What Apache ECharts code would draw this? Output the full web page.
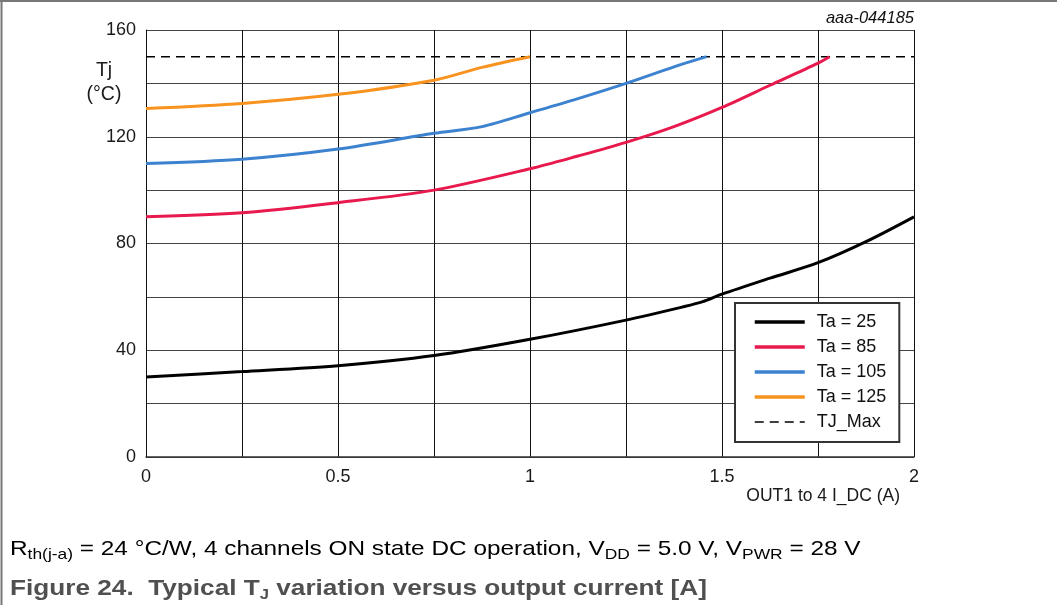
<!DOCTYPE html>
<html>
<head>
<meta charset="utf-8">
<script src="https://cdn.jsdelivr.net/npm/echarts@6/dist/echarts.min.js"></script>
<style>
html,body{margin:0;padding:0;background:#fff;}
#chart{width:1057px;height:605px;}
</style>
</head>
<body>
<div id="chart"></div>
<script>
// Data
const seriesNames = ['Ta = 25', 'Ta = 85', 'Ta = 105', 'Ta = 125', 'TJ_Max'];
const currentTa25 = [0, 0.25, 0.5, 0.75, 1.0, 1.25, 1.4, 1.45, 1.5, 1.625, 1.75, 1.875, 2.0];
const tempTa25    = [30, 32, 34.2, 38, 44.1, 51.3, 56.3, 58.2, 61, 67, 72.8, 80.7, 90];
const currentTa85 = [0, 0.25, 0.5, 0.75, 1.0, 1.125, 1.25, 1.375, 1.5, 1.625, 1.75, 1.78];
const tempTa85    = [90, 91.5, 95.3, 100, 108, 112.8, 117.9, 123.8, 131, 139.3, 147.6, 150];
const currentTa105 = [0, 0.25, 0.5, 0.75, 0.875, 1.0, 1.125, 1.25, 1.375, 1.46];
const tempTa105    = [110, 111.6, 115.4, 121.3, 123.8, 129, 134.3, 140, 146.2, 150];
const currentTa125 = [0, 0.25, 0.5, 0.75, 0.875, 1.0];
const tempTa125    = [130.6, 132.5, 135.9, 141.2, 146, 150];
const currentTjMax = [0, 2];
const tempTjMax    = [150, 150];
const xTicks = [0, 0.5, 1, 1.5, 2];
const yTicks = [0, 40, 80, 120, 160];

const colors = ['#000000', '#E8194C', '#3D82CF', '#F7931E', '#000000'];

function pairs(xs, ys) { return xs.map((x, i) => [x, ys[i]]); }
const dataSets = [
  pairs(currentTa25, tempTa25),
  pairs(currentTa85, tempTa85),
  pairs(currentTa105, tempTa105),
  pairs(currentTa125, tempTa125),
  pairs(currentTjMax, tempTjMax)
];

const chart = echarts.init(document.getElementById('chart'), null, {renderer: 'canvas'});
const FONT = 'Liberation Sans, Arial, sans-serif';

const series = seriesNames.map((name, i) => ({
  name: name,
  type: 'line',
  data: dataSets[i],
  symbol: 'none',
  smooth: i === 4 ? false : 0.3,
  z: i === 4 ? 1 : 3,
  lineStyle: i === 4
    ? {color: '#000', width: 1.5, type: [9, 6]}
    : {color: colors[i], width: 3},
  itemStyle: {color: 'rgba(0,0,0,0)', borderWidth: 0}
}));

const legendData = seriesNames.map((name, i) => ({
  name: name,
  lineStyle: i === 4 ? {width: 1.5} : {width: 3.5}
}));

chart.setOption({
  backgroundColor: '#ffffff',
  animation: false,
  grid: {left: 146, right: 143, top: 30, bottom: 148, containLabel: false},
  xAxis: {
    type: 'value', min: 0, max: 2, interval: 0.25,
    axisLine: {show: true, lineStyle: {color: '#333', width: 1.5}},
    axisTick: {show: false},
    splitLine: {show: true, lineStyle: {color: '#111', width: 1}},
    axisLabel: {
      color: '#1a1a1a', fontSize: 18, fontFamily: FONT, margin: 11,
      formatter: v => (xTicks.indexOf(v) >= 0 ? String(v) : ''),
      showMaxLabel: true, showMinLabel: true
    },
    name: 'OUT1 to 4 I_DC (A)',
    nameLocation: 'end',
    nameGap: 0,
    nameTextStyle: {color: '#1a1a1a', fontSize: 17.5, fontFamily: FONT, align: 'right', verticalAlign: 'top', padding: [30, 14, 0, 0]}
  },
  yAxis: {
    type: 'value', min: 0, max: 160, interval: 20,
    axisLine: {show: true, lineStyle: {color: '#111', width: 1}},
    axisTick: {show: false},
    splitLine: {show: true, lineStyle: {color: '#444', width: 1.2}},
    axisLabel: {
      color: '#1a1a1a', fontSize: 18, fontFamily: FONT, margin: 10,
      formatter: v => (yTicks.indexOf(v) >= 0 ? String(v) : '')
    }
  },
  legend: {
    data: legendData,
    orient: 'vertical',
    left: 735, top: 303,
    itemWidth: 50, itemHeight: 14, itemGap: 7,
    padding: [10, 13, 11, 18],
    backgroundColor: '#ffffff',
    borderColor: '#333', borderWidth: 2,
    itemStyle: {color: 'rgba(0,0,0,0)', borderWidth: 0},
    textStyle: {color: '#111', fontSize: 18, fontFamily: FONT, padding: [0, 0, 0, 7]},
    selectedMode: false
  },
  graphic: [
    {type: 'line', shape: {x1: 1.5, y1: 0, x2: 1.5, y2: 605}, style: {stroke: '#777', lineWidth: 2}},
    {type: 'line', shape: {x1: 0, y1: 1, x2: 1057, y2: 1}, style: {stroke: '#777', lineWidth: 2}},
    {type: 'text', x: 914, y: 18, style: {text: 'aaa-044185', fill: '#111', font: 'italic 16.5px ' + FONT, textAlign: 'right', textVerticalAlign: 'middle'}},
    {type: 'text', x: 104, y: 71, style: {text: 'Tj', fill: '#1a1a1a', font: '19.5px ' + FONT, textAlign: 'center', textVerticalAlign: 'middle'}},
    {type: 'text', x: 104, y: 95, style: {text: '(°C)', fill: '#1a1a1a', font: '19.5px ' + FONT, textAlign: 'center', textVerticalAlign: 'middle'}},
    {
      type: 'text', x: 10, y: 549, scaleX: 1.16,
      style: {
        text: '{b|R}{s|th(j-a)}{b| = 24 °C/W, 4 channels ON state DC operation, V}{s|DD}{b| = 5.0 V, V}{s|PWR}{b| = 28 V}',
        textVerticalAlign: 'middle',
        rich: {
          b: {fontSize: 21, fontFamily: FONT, fill: '#000', lineHeight: 26, verticalAlign: 'middle'},
          s: {fontSize: 15, fontFamily: FONT, fill: '#000', lineHeight: 15, verticalAlign: 'bottom'}
        }
      }
    },
    {
      type: 'text', x: 10, y: 589, scaleX: 1.19,
      style: {
        text: '{b|Figure 24.  Typical T}{s|J}{b| variation versus output current [A]}',
        textVerticalAlign: 'middle',
        rich: {
          b: {fontSize: 22, fontWeight: 'bold', fontFamily: FONT, fill: '#505050', lineHeight: 26, verticalAlign: 'middle'},
          s: {fontSize: 14, fontWeight: 'bold', fontFamily: FONT, fill: '#505050', lineHeight: 14, verticalAlign: 'bottom'}
        }
      }
    }
  ],
  series: series
});
</script>
</body>
</html>
